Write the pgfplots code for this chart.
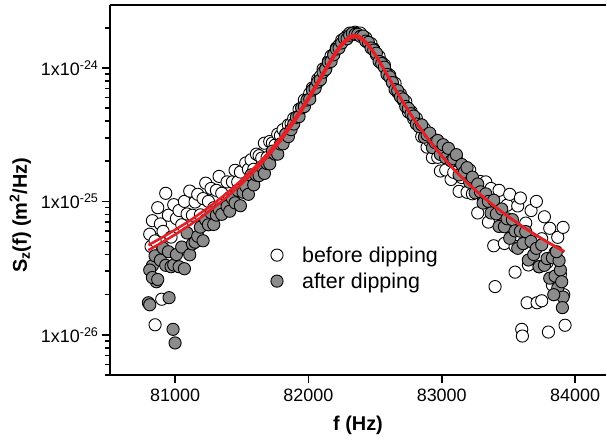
\documentclass[border=0pt]{standalone}
\usepackage{pgfplots}
\pgfplotsset{compat=1.18}
\usepackage{fontspec}
\setmainfont{Liberation Sans}
\definecolor{fitred}{RGB}{228,32,38}
\definecolor{dotgray}{RGB}{140,140,140}
\begin{document}
\begin{tikzpicture}
\useasboundingbox (-110bp,-66bp) rectangle (497bp,375bp);
\begin{axis}[
  at={(0,0)}, anchor=south west,
  scale only axis, width=496bp, height=370bp,
  ymode=log,
  xmin=80512, xmax=84232, ymin=5e-27, ymax=2.96e-24,
  clip mode=individual,
  axis x line=box, axis y line=left,
  axis line style={-, line width=1.8bp},
  tick pos=left, tick align=outside,
  major tick length=8bp, minor tick length=5bp,
  tick style={black, line width=1.6bp},
  scaled x ticks=false,
  xtick={81000,82000,83000,84000},
  xticklabels={81000,82000,83000,84000},
  xticklabel style={yshift=-2bp},
  ytick={1e-26,1e-25,1e-24},
  yticklabels={1x10\textsuperscript{-26},1x10\textsuperscript{-25},1x10\textsuperscript{-24}},
  minor ytick={5e-27,6e-27,7e-27,8e-27,9e-27,2e-26,3e-26,4e-26,5e-26,6e-26,7e-26,8e-26,9e-26,2e-25,3e-25,4e-25,5e-25,6e-25,7e-25,8e-25,9e-25,2e-24},
  tick label style={font=\fontsize{18}{21}\selectfont},
  xlabel={f (Hz)},
  ylabel={S\textsubscript{z}(f) (m\textsuperscript{2}/Hz)},
  label style={font=\fontsize{20}{24}\selectfont\bfseries},
  xlabel style={at={(axis description cs:0.5,-0.135)}, anchor=center},
  ylabel style={at={(axis description cs:-0.181,0.432)}, anchor=center},
  legend style={at={(axis description cs:0.318,0.289)}, anchor=west, draw=none, fill=none,
    font=\fontsize{21.5}{25}\selectfont, row sep=5bp, column sep=17bp},
  legend cell align=left,
]
% before dipping
\addplot[only marks, mark=*, mark size=6.1bp, mark options={fill=white, draw=black, line width=0.9bp}] coordinates {
(80850,1.19e-26) (80900,1.85e-26) (80820,4.6e-26) (80880,5.2e-26)
(80810,5.68e-26) (80830,7.17e-26) (80850,5.06e-26) (80870,8.97e-26) (80890,6.78e-26) (80910,5.96e-26) (80930,11.5e-26) (80950,7.88e-26) (80970,5.40e-26) (80990,9.45e-26) (81010,7.44e-26) (81030,8.54e-26) (81050,6.68e-26) (81070,10.0e-26) (81090,8.05e-26) (81110,11.95e-26) (81130,7.88e-26) (81150,9.90e-26) (81170,11.3e-26) (81190,7.93e-26) (81210,10.5e-26) (81230,13.7e-26) (81250,10.0e-26) (81270,12.5e-26) (81290,8.96e-26) (81310,12.1e-26) (81330,15.4e-26) (81350,11.5e-26)
(81390,14.0e-26) (81410,10.7e-26) (81430,14.0e-26) (81450,17.1e-26) (81470,14.0e-26) (81490,16.6e-26) (81510,12.4e-26) (81530,19.4e-26) (81550,17.4e-26) (81570,20.5e-26) (81590,17.4e-26) (81610,22.6e-26) (81630,22.0e-26) (81650,21.1e-26) (81670,27.3e-26) (81690,21.3e-26) (81710,28.1e-26) (81730,27.4e-26) (81750,26.4e-26) (81770,31.9e-26) (81790,31.1e-26) (81810,34.5e-26) (81830,31.9e-26) (81850,37.4e-26) (81870,38.1e-26)
(81890,41.9e-26) (81910,42.3e-26) (81930,49.0e-26) (81950,50.2e-26) (81970,57.6e-26) (81990,57.5e-26) (82010,64.4e-26) (82030,70.8e-26) (82050,71.7e-26) (82070,82.2e-26) (82090,86.5e-26) (82110,98.2e-26) (82130,99.5e-26) (82150,112.0e-26) (82170,123.1e-26) (82190,126.6e-26) (82210,141.2e-26) (82230,147.9e-26) (82250,161.3e-26) (82270,163.5e-26) (82290,173.4e-26) (82310,182.4e-26) (82330,180.4e-26) (82350,185.3e-26)
(82370,182.1e-26) (82390,182.4e-26) (82410,170.2e-26) (82430,168.1e-26) (82450,153.9e-26) (82470,152.0e-26) (82490,138.6e-26) (82510,125.4e-26) (82530,122.0e-26) (82550,109.9e-26) (82570,105.3e-26) (82590,91.2e-26) (82610,88.1e-26) (82630,79.2e-26) (82650,76.6e-26) (82670,65.7e-26) (82690,63.8e-26) (82710,57.5e-26) (82730,56.0e-26) (82750,46.8e-26) (82770,47.2e-26) (82790,41.5e-26) (82810,41.9e-26)
(82830,38.1e-26) (82850,30.6e-26) (82870,35.1e-26) (82890,25.5e-26) (82910,28.3e-26) (82930,21.3e-26) (82950,28.9e-26) (82970,21.4e-26) (82990,16.9e-26) (83010,22.4e-26) (83030,17.2e-26) (83050,23.0e-26) (83070,14.6e-26) (83090,16.5e-26) (83110,20.8e-26) (83130,11.9e-26) (83150,15.1e-26) (83170,17.3e-26) (83190,11.7e-26) (83210,17.2e-26) (83230,11.4e-26) (83250,13.4e-26) (83270,8.19e-26) (83290,14.1e-26) (83310,10.8e-26) (83330,14.0e-26)
(83350,7.0e-26) (83370,12.5e-26) (83390,4.65e-26) (83410,8.96e-26) (83430,12.1e-26) (83450,6.68e-26) (83470,4.84e-26) (83490,9.36e-26) (83510,11.3e-26) (83530,6.57e-26) (83550,4.60e-26) (83570,9.25e-26) (83590,10.6e-26) (83610,4.83e-26) (83630,6.88e-26) (83650,3.34e-26) (83670,8.54e-26) (83690,4.86e-26) (83710,10.0e-26) (83730,3.24e-26) (83750,5.25e-26) (83770,7.67e-26) (83790,3.48e-26) (83810,6.29e-26) (83830,2.36e-26) (83850,4.14e-26) (83870,5.38e-26) (83890,2.84e-26) (83910,6.39e-26)
(83400,2.3e-26) (83550,2.95e-26) (83600,1.1e-26) (83605,0.98e-26) (83640,1.74e-26) (83715,1.74e-26) (83750,1.8e-26) (83800,1.05e-26) (83925,1.18e-26) (83915,2.0e-26)
};
\addlegendentry{before dipping}
% after dipping
\addplot[only marks, mark=*, mark size=6.1bp, mark options={fill=dotgray, draw=black, line width=0.9bp}] coordinates {
(80800,1.74e-26) (80810,1.68e-26) (80955,1.9e-26) (80985,1.1e-26) (81000,0.87e-26) (80830,3.3e-26) (80860,2.5e-26)
(80810,3.06e-26) (80830,2.69e-26) (80850,3.91e-26) (80870,2.60e-26) (80890,3.63e-26) (80910,4.47e-26) (80930,3.32e-26) (80950,4.20e-26) (80970,3.24e-26) (80990,3.34e-26) (81010,4.00e-26) (81030,3.24e-26) (81050,4.55e-26) (81070,3.13e-26) (81090,5.80e-26) (81110,3.98e-26) (81130,4.80e-26) (81150,4.95e-26) (81170,5.48e-26) (81190,6.42e-26) (81210,5.07e-26) (81230,7.26e-26) (81250,6.68e-26) (81270,8.22e-26) (81290,6.72e-26) (81310,7.90e-26) (81330,8.68e-26) (81350,8.0e-26)
(81390,9.18e-26) (81410,8.44e-26) (81430,10.5e-26) (81450,9.76e-26) (81470,12.1e-26) (81490,9.28e-26) (81510,11.7e-26) (81530,13.0e-26) (81550,11.3e-26) (81570,15.8e-26) (81590,13.3e-26) (81610,15.7e-26) (81630,15.6e-26) (81650,18.2e-26) (81670,16.2e-26) (81690,19.2e-26) (81710,19.1e-26) (81730,23.8e-26) (81750,22.6e-26) (81770,22.6e-26) (81790,26.9e-26) (81810,27.0e-26) (81830,31.9e-26) (81850,30.6e-26) (81870,34.5e-26)
(81890,38.0e-26) (81910,42.7e-26) (81930,43.2e-26) (81950,50.2e-26) (81970,51.4e-26) (81990,57.5e-26) (82010,58.4e-26) (82030,68.3e-26) (82050,70.3e-26) (82070,78.4e-26) (82090,81.6e-26) (82110,92.9e-26) (82130,97.6e-26) (82150,109.9e-26) (82170,111.9e-26) (82190,125.4e-26) (82210,138.6e-26) (82230,141.0e-26) (82250,153.9e-26) (82270,166.5e-26) (82290,165.4e-26) (82310,175.7e-26) (82330,182.1e-26) (82350,178.5e-26)
(82370,178.7e-26) (82390,172.4e-26) (82410,173.4e-26) (82430,158.8e-26) (82450,155.4e-26) (82470,141.0e-26) (82490,136.0e-26) (82510,129.0e-26) (82530,111.9e-26) (82550,107.8e-26) (82570,101.4e-26) (82590,89.4e-26) (82610,85.7e-26) (82630,77.7e-26) (82650,68.9e-26) (82670,67.6e-26) (82690,60.8e-26) (82710,58.6e-26) (82730,51.4e-26) (82750,49.7e-26) (82770,45.4e-26) (82790,43.6e-26) (82810,38.0e-26)
(82830,36.3e-26) (82850,37.4e-26) (82870,30.3e-26) (82890,31.5e-26) (82910,32.5e-26) (82930,25.3e-26) (82950,27.6e-26) (82970,28.6e-26) (82990,22.5e-26) (83010,26.6e-26) (83030,21.2e-26) (83050,25.0e-26) (83070,20.1e-26) (83090,20.9e-26) (83110,22.4e-26) (83130,15.8e-26) (83150,18.9e-26) (83170,16.6e-26) (83190,17.9e-26) (83210,13.9e-26) (83230,15.2e-26) (83250,11.6e-26) (83270,13.5e-26) (83290,11.8e-26) (83310,9.72e-26) (83330,11.4e-26)
(83350,10.0e-26) (83370,8.19e-26) (83390,10.2e-26) (83410,8.06e-26) (83430,6.49e-26) (83450,8.77e-26) (83470,6.46e-26) (83490,7.41e-26) (83510,5.29e-26) (83530,7.30e-26) (83550,6.01e-26) (83570,4.45e-26) (83590,5.98e-26) (83610,4.83e-26) (83630,5.94e-26) (83650,3.64e-26) (83670,5.01e-26) (83690,4.00e-26) (83710,4.45e-26) (83730,3.24e-26) (83750,4.73e-26) (83770,3.32e-26) (83790,3.73e-26) (83810,2.66e-26) (83830,3.78e-26) (83850,2.76e-26) (83870,2.24e-26) (83890,3.06e-26) (83910,1.92e-26)
(83905,1.6e-26) (83900,2.5e-26) (83880,3.6e-26) (83860,4.2e-26) (83840,2.0e-26)
};
\addlegendentry{after dipping}
% fits
\addplot[fitred, line width=2.6bp, forget plot] coordinates {
(80800,4.31e-26) (80900,4.91e-26) (81000,5.64e-26) (81100,6.54e-26) (81200,7.67e-26) (81300,9.12e-26) (81400,11.01e-26) (81500,13.54e-26) (81600,17.0e-26) (81700,21.91e-26) (81800,29.11e-26) (81900,40.09e-26) (81950,47.75e-26) (82000,57.43e-26) (82050,69.67e-26) (82100,85.0e-26) (82150,103.66e-26) (82200,125.0e-26) (82250,146.55e-26) (82300,163.46e-26) (82325,168.3e-26) (82350,170e-26) (82375,168.3e-26) (82400,163.46e-26) (82450,146.55e-26) (82500,125.0e-26) (82550,103.66e-26) (82600,85.0e-26) (82650,69.67e-26) (82700,57.43e-26) (82750,47.75e-26) (82800,40.09e-26) (82900,29.11e-26) (83000,21.91e-26) (83100,17.0e-26) (83200,13.54e-26) (83300,11.01e-26) (83400,9.12e-26) (83500,7.67e-26) (83600,6.54e-26) (83700,5.64e-26) (83800,4.91e-26) (83900,4.31e-26) (83920,4.20e-26)
};
\addplot[fitred, line width=2.6bp, forget plot] coordinates {
(80800,4.70e-26) (80900,5.35e-26) (81000,6.12e-26) (81100,7.06e-26) (81200,8.28e-26) (81300,9.80e-26) (81400,11.78e-26) (81500,14.49e-26) (81600,18.1e-26) (81700,23.2e-26) (81800,30.7e-26) (81900,42.1e-26) (81950,50.1e-26) (82000,60.3e-26) (82050,72.8e-26) (82100,88.8e-26) (82150,107.8e-26) (82200,130e-26) (82250,152.4e-26) (82300,170e-26) (82325,175e-26) (82350,176.8e-26) (82375,174.2e-26) (82400,168.4e-26) (82450,150.2e-26) (82500,127.5e-26) (82550,105.2e-26) (82600,85.9e-26) (82650,70.0e-26) (82700,57.43e-26) (82750,47.75e-26) (82800,40.09e-26) (82900,29.11e-26) (83000,21.91e-26) (83100,17.0e-26) (83200,13.54e-26) (83300,11.01e-26) (83400,9.12e-26) (83500,7.67e-26) (83600,6.54e-26) (83700,5.64e-26) (83800,4.91e-26) (83900,4.31e-26) (83920,4.20e-26)
};
\end{axis}
\end{tikzpicture}
\end{document}
